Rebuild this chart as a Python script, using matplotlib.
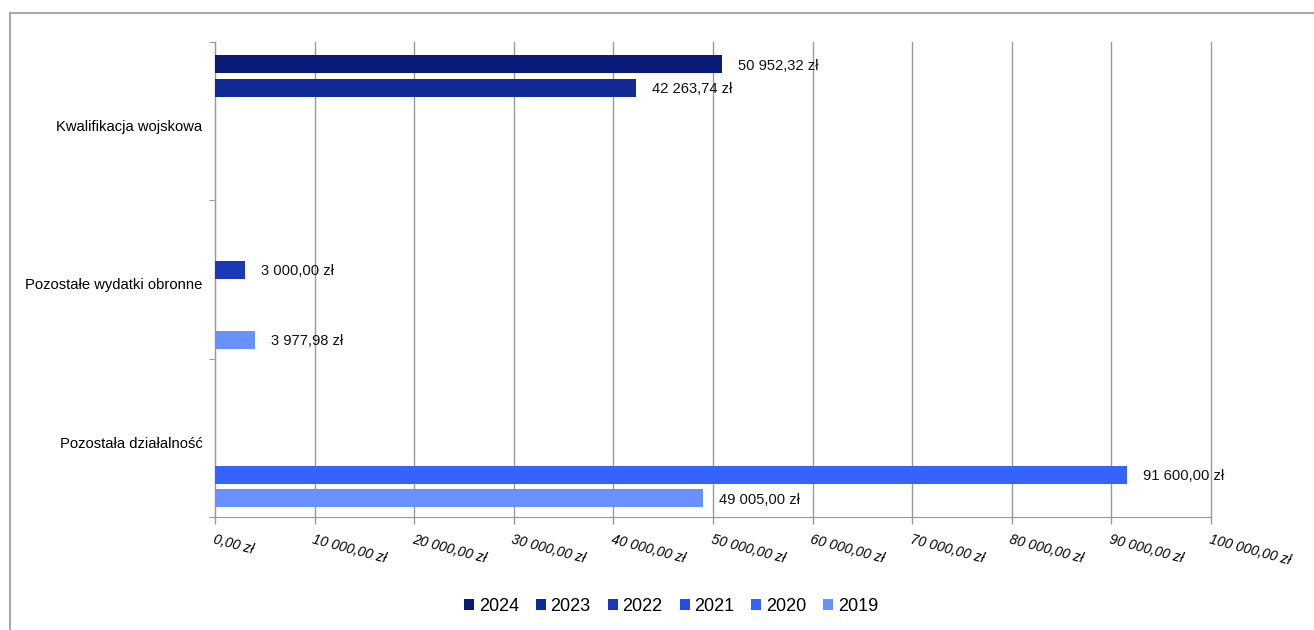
import matplotlib
matplotlib.use("Agg")
import matplotlib.pyplot as plt
import matplotlib.transforms as mtransforms
from matplotlib.lines import Line2D
import numpy as np

plt.rcParams['font.family'] = ['Liberation Sans', 'DejaVu Sans']

categories = ["Kwalifikacja wojskowa", "Pozostałe wydatki obronne", "Pozostała działalność"]
years = ["2024", "2023", "2022", "2021", "2020", "2019"]
colors = ["#0c1b78", "#112a96", "#1b38b6", "#2550dd", "#3563fe", "#6890ff"]

# values per year, in order of categories (0 = no bar)
v2024 = [50952.32, 0, 0]
v2023 = [42263.74, 0, 0]
v2022 = [0, 3000.00, 0]
v2021 = [0, 0, 0]
v2020 = [0, 0, 91600.00]
v2019 = [0, 3977.98, 49005.00]
series = [v2024, v2023, v2022, v2021, v2020, v2019]

xticks = np.arange(0, 100001, 10000)


def zl(v):
    whole, frac = f"{v:.2f}".split(".")
    parts = []
    while len(whole) > 3:
        parts.insert(0, whole[-3:])
        whole = whole[:-3]
    parts.insert(0, whole)
    return " ".join(parts) + "," + frac + " zł"


fig = plt.figure(figsize=(13.14, 6.3), dpi=100)
ax = fig.add_axes([215 / 1314, 1 - 517 / 630, 996 / 1314, 475 / 630])

y = np.arange(len(categories))
slot = 23.5 / 158.5
h = 18 / 158.5
for i, (yr, vals) in enumerate(zip(years, series)):
    pos = y + (i - 2.5) * slot + 0.012
    ax.barh(pos, vals, height=h, color=colors[i], label=yr, zorder=3)
    for p, v in zip(pos, vals):
        if v > 0:
            ax.annotate(zl(v), (v, p), xytext=(11.5, -1), textcoords="offset points",
                        va="center", ha="left", fontsize=10.6, color="#111111")

ax.set_xlim(0, 100000)
ax.set_ylim(2.5, -0.5)
ax.set_xticks(xticks)
ax.set_xticklabels([zl(t) for t in xticks], rotation=-15, ha="left", va="top",
                   rotation_mode="anchor", fontsize=10, style="italic")
ax.tick_params(axis="x", length=5, width=1, color="#999999", pad=6)
ax.set_yticks([-0.5, 0.5, 1.5, 2.5], minor=False)
ax.set_yticklabels([])
ax.set_yticks(y, minor=True)
ax.set_yticklabels(categories, minor=True, fontsize=10.6)
ax.tick_params(axis="y", which="major", length=4, color="#999999")
ax.tick_params(axis="y", which="minor", length=0, pad=9)
shift = mtransforms.ScaledTranslation(0, -4.5 / 100, fig.dpi_scale_trans)
for lbl in ax.get_yticklabels(minor=True):
    lbl.set_transform(lbl.get_transform() + shift)
ax.grid(axis="x", color="#999999", linewidth=1, zorder=0)
for gl in ax.get_xgridlines():
    gl.set_clip_on(False)
for s in ["top", "right"]:
    ax.spines[s].set_visible(False)
for s in ["left", "bottom"]:
    ax.spines[s].set_color("#999999")

leg = ax.legend(loc="center", bbox_to_anchor=(0.458, -0.188), ncol=6, frameon=False,
                fontsize=13, handlelength=0.55, handleheight=0.55, handletextpad=0.25,
                columnspacing=0.95)

# outer frame
fig.add_artist(Line2D([10 / 1314, 10 / 1314], [0, 1 - 13 / 630], color="#aaaaaa", lw=1.5))
fig.add_artist(Line2D([10 / 1314, 1], [1 - 13 / 630, 1 - 13 / 630], color="#aaaaaa", lw=1.5))

fig.savefig("out.png", dpi=100)
